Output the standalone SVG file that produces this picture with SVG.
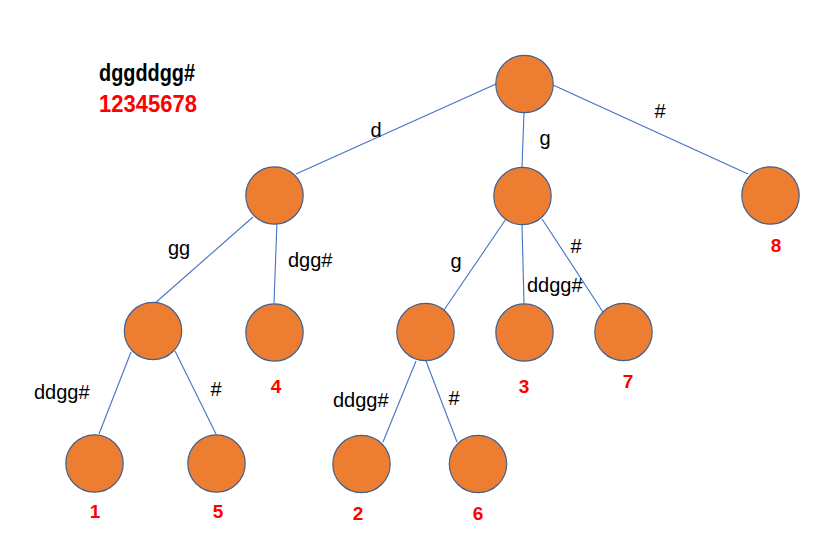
<svg xmlns="http://www.w3.org/2000/svg" width="827" height="550" viewBox="0 0 827 550">
<style>
.node{fill:#ED7D31;stroke:#41608F;stroke-width:1.2}
.edge{stroke:#4472C4;stroke-width:1.1;fill:none}
.lbl{font-family:"Liberation Sans",Arial,sans-serif;font-size:20px;fill:#000}
.num{font-family:"Liberation Sans",Arial,sans-serif;font-size:19px;font-weight:bold;fill:#FF0000;text-anchor:middle}
.hdr{font-family:"Liberation Sans",Arial,sans-serif;font-size:23px;font-weight:bold}
</style>
<rect width="827" height="550" fill="#fff"/>
<text class="hdr" x="99" y="81" fill="#000" textLength="96" lengthAdjust="spacingAndGlyphs">dggddgg#</text>
<text class="hdr" x="99" y="112" fill="#FF0000" textLength="98" lengthAdjust="spacingAndGlyphs">12345678</text>
<g id="connectors">
<line class="edge" x1="496" y1="84" x2="296" y2="174"/>
<line class="edge" x1="524" y1="113" x2="522" y2="167"/>
<line class="edge" x1="553" y1="85" x2="748" y2="174"/>
<line class="edge" x1="253" y1="217" x2="154" y2="304"/>
<line class="edge" x1="277" y1="222" x2="274" y2="303"/>
<line class="edge" x1="131" y1="352" x2="99" y2="434"/>
<line class="edge" x1="175" y1="351" x2="216" y2="434"/>
<line class="edge" x1="506" y1="219" x2="444" y2="310"/>
<line class="edge" x1="522" y1="225" x2="524" y2="303"/>
<line class="edge" x1="542" y1="219" x2="603" y2="312"/>
<line class="edge" x1="416" y1="361" x2="383" y2="442"/>
<line class="edge" x1="426" y1="361" x2="457" y2="442"/>
<text class="lbl" x="376" y="137" text-anchor="middle">d</text>
<text class="lbl" x="545" y="145" text-anchor="middle">g</text>
<text class="lbl" x="660" y="118" text-anchor="middle">#</text>
<text class="lbl" x="179" y="255" text-anchor="middle">gg</text>
<text class="lbl" x="288" y="267">dgg#</text>
<text class="lbl" x="456" y="268" text-anchor="middle">g</text>
<text class="lbl" x="576" y="253" text-anchor="middle">#</text>
<text class="lbl" x="527" y="292">ddgg#</text>
<text class="lbl" x="34" y="399">ddgg#</text>
<text class="lbl" x="216" y="396" text-anchor="middle">#</text>
<text class="lbl" x="333" y="407">ddgg#</text>
<text class="lbl" x="454" y="405" text-anchor="middle">#</text>
</g>
<g id="root"><circle class="node" cx="524.5" cy="84" r="28.7"/></g>
<g id="n-d"><circle class="node" cx="274.5" cy="195.5" r="28.7"/></g>
<g id="n-g"><circle class="node" cx="522.5" cy="196" r="28.7"/></g>
<g id="n8"><circle class="node" cx="770.5" cy="195.5" r="28.7"/><text class="num" x="776" y="252">8</text></g>
<g id="n-gg"><circle class="node" cx="153" cy="331" r="28.7"/></g>
<g id="n4"><circle class="node" cx="274.5" cy="332.5" r="28.7"/><text class="num" x="276" y="393">4</text></g>
<g id="n-g2"><circle class="node" cx="425.5" cy="332" r="28.7"/></g>
<g id="n3"><circle class="node" cx="524.5" cy="332.5" r="28.7"/><text class="num" x="524" y="393">3</text></g>
<g id="n7"><circle class="node" cx="623.5" cy="332" r="28.7"/><text class="num" x="628" y="388">7</text></g>
<g id="n1"><circle class="node" cx="94.5" cy="463.5" r="28.7"/><text class="num" x="95" y="518">1</text></g>
<g id="n5"><circle class="node" cx="216.5" cy="463.5" r="28.7"/><text class="num" x="218" y="518">5</text></g>
<g id="n2"><circle class="node" cx="361.5" cy="464" r="28.7"/><text class="num" x="358" y="520">2</text></g>
<g id="n6"><circle class="node" cx="478" cy="464" r="28.7"/><text class="num" x="478" y="520">6</text></g>
</svg>
